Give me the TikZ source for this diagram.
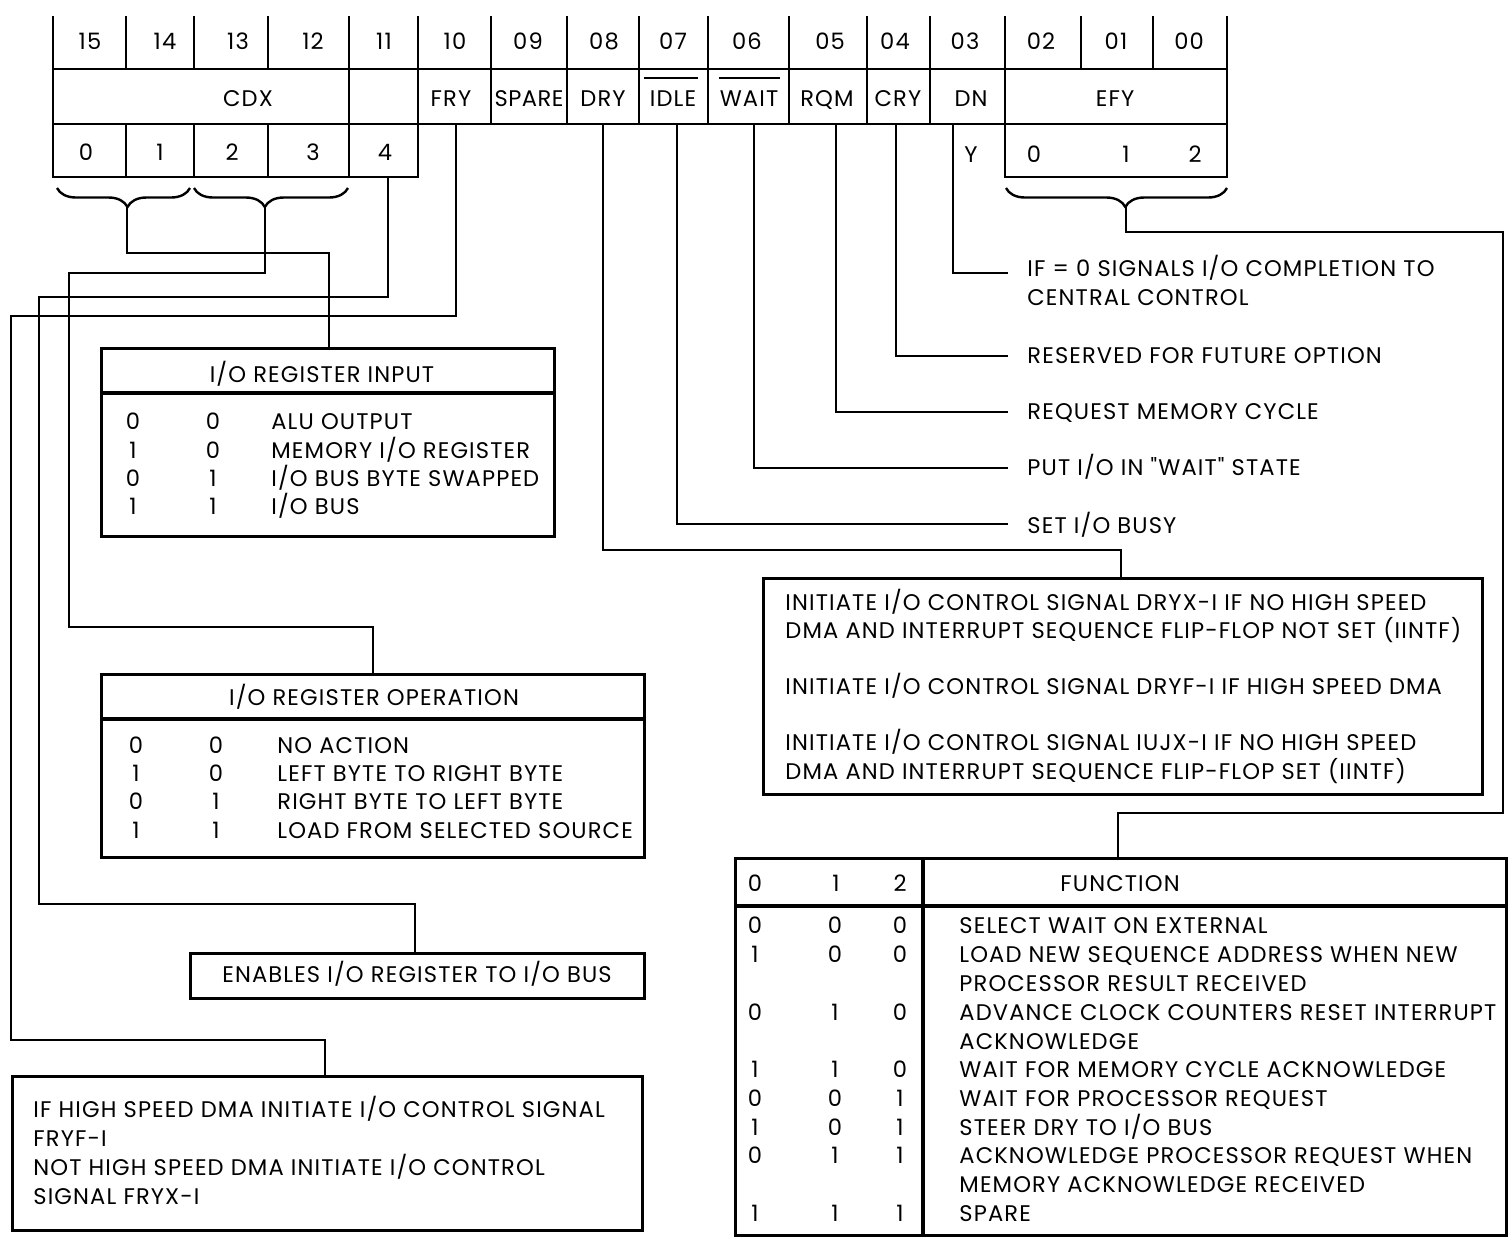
\documentclass[tikz,border=0pt]{standalone}
\usepackage{fontspec}
\setmainfont{Poppins}[LetterSpace=5, Ligatures=TeXOff]
\usetikzlibrary{decorations.pathreplacing}
\begin{document}
\begin{tikzpicture}[x=0.5pt,y=-0.5pt,
  reg/.style={line width=1.4pt, line cap=rect},
  box/.style={draw, line width=1.6pt, inner sep=0pt, anchor=north west},
  sep/.style={line width=1.6pt},
  wire/.style={line width=1pt},
  brc/.style={line width=1.2pt, decorate},
  txt/.style={inner sep=0pt, text height=7.5pt, text depth=0pt, font=\fontsize{11.3}{13}\selectfont},
  lt/.style={txt, anchor=west},
  ct/.style={txt, anchor=center}]
\useasboundingbox (0,0) rectangle (1509,1239);
% ---------- register ----------
\foreach \x in {53,126,194,268,349,418,491,567,639,708,789,867,930,1005,1081,1153,1227}
  \draw[reg] (\x,17) -- (\x,69);
\draw[reg] (53,69) -- (1227,69);
\foreach \x in {53,349,418,491,567,639,708,789,867,930,1005,1227}
  \draw[reg] (\x,69) -- (\x,124);
\draw[reg] (53,124) -- (1227,124);
\draw[reg] (53,124) rectangle (418,177);
\foreach \x in {126,194,268,349} \draw[reg] (\x,124) -- (\x,177);
\draw[reg] (1005,124) rectangle (1227,177);
% bit numbers
\foreach \x/\t in {90/15,165/14,238/13,313/12,384/11,455/10,528/09,604/08,673/07,747/06,830/05,895/04,965/03,1041/02,1116/01,1189/00}
  \node[ct] (n\t) at (\x,42) {\t};
% field names
\node[ct] (cdx) at (248,99) {CDX};
\node[ct] (fry) at (451,99) {FRY};
\node[ct] (spare) at (529,99) {\addfontfeature{LetterSpace=2}SPARE};
\node[ct] (dry) at (603,99) {DRY};
\node[ct] (idle) at (673,99) {IDLE};
\node[ct] (wait) at (749,99) {WAIT};
\node[ct] (rqm) at (827,99) {RQM};
\node[ct] (cry) at (898,99) {CRY};
\node[ct] (dn) at (971,99) {DN};
\node[ct] (efy) at (1115,99) {EFY};
\draw[wire] (644,78) -- (698,78);
\draw[wire] (719,78) -- (780,78);
% third row
\node[ct] (c0) at (86,153) {0};
\node[ct] (c1) at (160,153) {1};
\node[ct] (c2) at (232,153) {2};
\node[ct] (c3) at (313,153) {3};
\node[ct] (c4) at (385,153) {4};
\node[ct] (dy) at (971,155) {Y};
\node[ct] (e0) at (1034,155) {0};
\node[ct] (e1) at (1126,155) {1};
\node[ct] (e2) at (1195,155) {2};
% braces
\draw[brc, decoration={brace, mirror, amplitude=9.5pt, aspect=0.53}] (57,188) -- (190,188);
\draw[brc, decoration={brace, mirror, amplitude=9.5pt, aspect=0.46}] (194,188) -- (348,188);
\draw[brc, decoration={brace, mirror, amplitude=9.5pt, aspect=0.54}] (1006,188) -- (1227,188);
\coordinate (b1) at (127,207);
\coordinate (b2) at (265,207);
\coordinate (b3) at (1126,207);
\coordinate (s4) at (388,177);
\coordinate (sfry) at (456,124);
\coordinate (sdry) at (603,124);
\coordinate (sidle) at (677,124);
\coordinate (swait) at (754,124);
\coordinate (srqm) at (836,124);
\coordinate (scry) at (896,124);
\coordinate (sdn) at (953,124);
% ---------- boxes ----------
\node[box, minimum width=226.5pt, minimum height=94pt] (inbox) at (100,347) {};
\draw[sep] (100,393) -- (553,393);
\node[ct] (inttl) at (322,375) {I/O REGISTER INPUT};
\foreach \y/\a/\b/\t in {422/0/0/{ALU OUTPUT},451/1/0/{MEMORY I/O REGISTER},479/0/1/{I/O BUS BYTE SWAPPED},507/1/1/{I/O BUS}}{
  \node[ct] at (133,\y) {\a};
  \node[ct] at (213,\y) {\b};
  \node[lt] at (271,\y) {\t};
}
\node[box, minimum width=271.5pt, minimum height=91.5pt] (opbox) at (100,673) {};
\draw[sep] (100,719) -- (643,719);
\node[ct] (opttl) at (374,698) {I/O REGISTER OPERATION};
\foreach \y/\a/\b/\t in {746/0/0/{NO ACTION},774/1/0/{LEFT BYTE TO RIGHT BYTE},802/0/1/{RIGHT BYTE TO LEFT BYTE},831/1/1/{LOAD FROM SELECTED SOURCE}}{
  \node[ct] at (136,\y) {\a};
  \node[ct] at (216,\y) {\b};
  \node[lt] at (277,\y) {\t};
}
\node[box, minimum width=227pt, minimum height=22.5pt] (enbox) at (189,952) {};
\node[ct] (entxt) at (417,975) {ENABLES I/O REGISTER TO I/O BUS};
\node[box, minimum width=315pt, minimum height=77pt] (frybox) at (11,1075) {};
\node[lt] (fr1) at (33,1110) {IF HIGH SPEED DMA INITIATE I/O CONTROL SIGNAL};
\node[lt] (fr2) at (33,1139) {FRYF-I};
\node[lt] (fr3) at (33,1168) {NOT HIGH SPEED DMA INITIATE I/O CONTROL};
\node[lt] (fr4) at (33,1197) {SIGNAL FRYX-I};
\node[box, minimum width=359.5pt, minimum height=108pt] (drybox) at (762,577) {};
\node[lt] (dr1) at (785,603) {INITIATE I/O CONTROL SIGNAL DRYX-I IF NO HIGH SPEED};
\node[lt] (dr2) at (785,631) {DMA AND INTERRUPT SEQUENCE FLIP-FLOP NOT SET (IINTF)};
\node[lt] (dr3) at (785,687) {INITIATE I/O CONTROL SIGNAL DRYF-I IF HIGH SPEED DMA};
\node[lt] (dr4) at (785,743) {INITIATE I/O CONTROL SIGNAL IUJX-I IF NO HIGH SPEED};
\node[lt] (dr5) at (785,772) {DMA AND INTERRUPT SEQUENCE FLIP-FLOP SET (IINTF)};
% table
\node[box, minimum width=385.5pt, minimum height=188.5pt] (tab) at (734,857) {};
\draw[sep] (734,906) -- (1505,906);
\draw[sep] (923,857) -- (923,1234);
\node[ct] (h0) at (755,884) {0};
\node[ct] (h1) at (836,884) {1};
\node[ct] (h2) at (900,884) {2};
\node[ct] (hf) at (1120,884) {FUNCTION};
\foreach \y/\a/\b/\c in {926/0/0/0,955/1/0/0,1013/0/1/0,1070/1/1/0,1099/0/0/1,1128/1/0/1,1156/0/1/1,1214/1/1/1}{
  \node[ct] at (755,\y) {\a};
  \node[ct] at (835,\y) {\b};
  \node[ct] at (900,\y) {\c};
}
\foreach \y/\t in {926/{SELECT WAIT ON EXTERNAL},955/{LOAD NEW SEQUENCE ADDRESS WHEN NEW},984/{PROCESSOR RESULT RECEIVED},1013/{ADVANCE CLOCK COUNTERS RESET INTERRUPT},1042/{ACKNOWLEDGE},1070/{WAIT FOR MEMORY CYCLE ACKNOWLEDGE},1099/{WAIT FOR PROCESSOR REQUEST},1128/{STEER DRY TO I/O BUS},1156/{ACKNOWLEDGE PROCESSOR REQUEST WHEN},1185/{MEMORY ACKNOWLEDGE RECEIVED},1214/{SPARE}}
  \node[lt] at (959,\y) {\t};
% right labels
\node[lt] (l1) at (1027,269) {IF = 0 SIGNALS I/O COMPLETION TO};
\node[lt] (l1b) at (1027,298) {CENTRAL CONTROL};
\node[lt] (l2) at (1027,356) {RESERVED FOR FUTURE OPTION};
\node[lt] (l3) at (1027,412) {REQUEST MEMORY CYCLE};
\node[lt] (l4) at (1027,468) {PUT I/O IN "WAIT" STATE};
\node[lt] (l5) at (1027,526) {SET I/O BUSY};
% ---------- connectors ----------
\draw[wire] (b1) |- (329,253) -- (inbox.north -| 329,0);
\draw[wire] (b2) |- (69,273) |- (373,627) -- (opbox.north -| 373,0);
\draw[wire] (s4) |- (39,297) |- (415,904) -- (enbox.north -| 415,0);
\draw[wire] (sfry) |- (11,316) |- (325,1040) -- (frybox.north -| 325,0);
\draw[wire] (sdry) |- (1121,550) -- (drybox.north -| 1121,0);
\draw[wire] (sidle) |- (1008,524);
\draw[wire] (swait) |- (1008,468);
\draw[wire] (srqm) |- (1008,412);
\draw[wire] (scry) |- (1008,356);
\draw[wire] (sdn) |- (1008,273);
\draw[wire] (b3) |- (1503,232) |- (1118,813) -- (tab.north -| 1118,0);
\end{tikzpicture}
\end{document}
